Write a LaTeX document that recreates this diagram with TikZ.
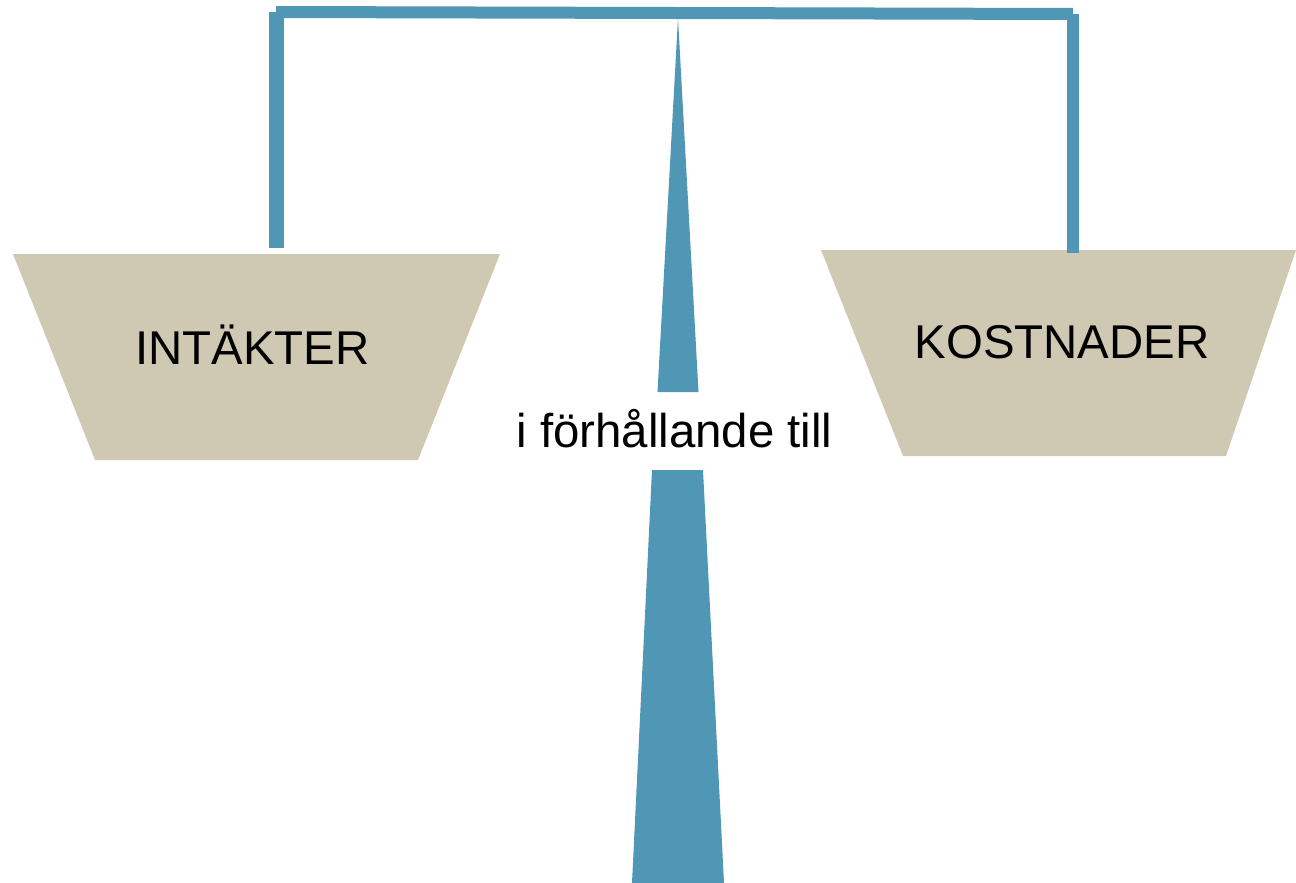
\documentclass[tikz,border=0pt]{standalone}
\usepackage{fontspec}
\setmainfont{Liberation Sans}
\definecolor{beamblue}{HTML}{4F97B4}
\definecolor{panbeige}{HTML}{CFC9B3}
\tikzset{
  beam/.style={fill=beamblue, draw=none},
  pan/.style={fill=panbeige, draw=none},
  label/.style={inner sep=0pt, anchor=base, font=\fontsize{47.4}{50}\selectfont, text=black}
}
\begin{document}
\begin{tikzpicture}[x=1pt,y=-1pt]
\useasboundingbox (0,0) rectangle (1296,883);
% pans
\fill[pan] (13,254) -- (500,254) -- (418,460) -- (95,460) -- cycle;
\fill[pan] (821,250) -- (1296,250) -- (1226,456) -- (903,456) -- cycle;
% beam and posts
\fill[beam] (276,6) -- (1073,8) -- (1073,20) -- (276,18) -- cycle;
\fill[beam] (269,12) rectangle (284,248);
\fill[beam] (1067,14) rectangle (1079,253);
% pillar
\fill[beam] (678,18) -- (698.5,392) -- (657.5,392) -- cycle;
\fill[beam] (652,470) -- (703,470) -- (724,883) -- (632,883) -- cycle;
% labels
\node[label] (intakter) at (252.5,364) {INTÄKTER};
\node[label] (kostnader) at (1062,358) {KOSTNADER};
\node[label] (relation) at (674.5,447) {i förhållande till};
\end{tikzpicture}
\end{document}
